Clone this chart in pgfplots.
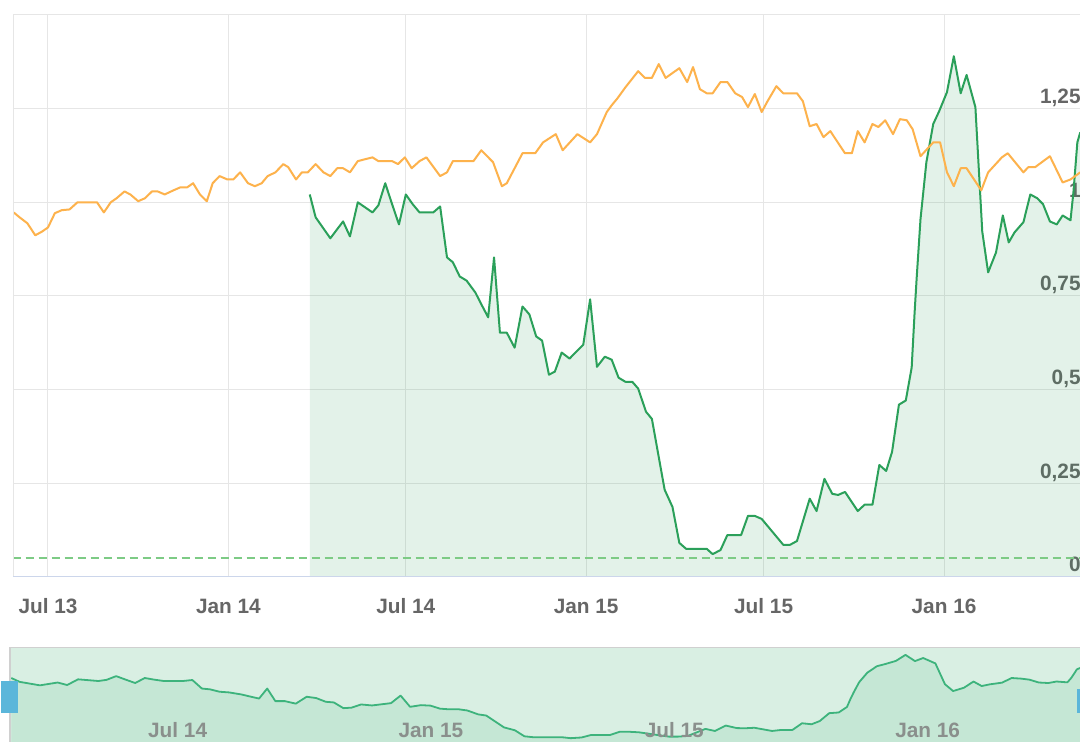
\documentclass[border=0pt]{standalone}
\usepackage{fontspec}
\setmainfont{Liberation Sans}
\usepackage{pgfplots}
\pgfplotsset{compat=1.18}
\usepackage{pgfplotstable}
\definecolor{gridc}{HTML}{E6E6E6}
\definecolor{axisc}{HTML}{CCD6EB}
\definecolor{labc}{HTML}{666666}
\definecolor{grn}{HTML}{2BA05A}
\definecolor{orng}{HTML}{FDB24C}
\definecolor{dashc}{HTML}{7DCB85}
\definecolor{navtop}{HTML}{D9EFE3}
\definecolor{navbot}{HTML}{C5E7D5}
\definecolor{navline}{HTML}{3DB37C}
\definecolor{handlec}{HTML}{5BB6DA}
\definecolor{navlab}{HTML}{8A8F8C}
\definecolor{navborder}{HTML}{D0D0D0}
\newcommand\tlf{\fontsize{10.4}{12}\selectfont\bfseries}

% x = days since 1 Jul 2013
\pgfplotstableread{
d v
-35 0.973
-29 0.960
-21 0.944
-13 0.912
-6 0.922
0 0.933
7 0.971
14 0.979
22 0.981
30 1.000
50 1.000
57 0.973
64 1.000
70 1.011
78 1.029
84 1.021
92 1.003
99 1.011
106 1.029
112 1.029
119 1.021
128 1.032
135 1.040
142 1.040
148 1.051
155 1.021
162 1.003
168 1.051
175 1.070
183 1.061
189 1.061
196 1.080
204 1.051
211 1.043
218 1.051
224 1.070
232 1.080
240 1.102
245 1.094
253 1.061
259 1.080
265 1.080
273 1.102
281 1.080
288 1.070
295 1.091
301 1.091
308 1.080
316 1.110
331 1.120
337 1.110
351 1.110
357 1.102
364 1.120
371 1.091
379 1.110
386 1.120
400 1.070
407 1.080
413 1.110
434 1.110
442 1.139
454 1.107
463 1.043
468 1.051
484 1.131
497 1.131
505 1.160
518 1.182
525 1.139
540 1.182
553 1.160
560 1.182
570 1.241
575 1.259
581 1.278
589 1.307
602 1.350
609 1.332
616 1.332
623 1.369
630 1.332
644 1.358
652 1.321
658 1.361
665 1.302
672 1.291
678 1.291
686 1.321
693 1.321
701 1.291
708 1.281
714 1.254
721 1.289
728 1.241
734 1.270
743 1.310
750 1.291
764 1.291
770 1.270
777 1.203
784 1.209
791 1.174
798 1.190
813 1.131
820 1.131
826 1.190
833 1.160
841 1.209
847 1.201
854 1.219
862 1.182
869 1.222
876 1.219
882 1.195
890 1.123
903 1.160
910 1.160
917 1.080
924 1.043
931 1.091
937 1.091
952 1.032
959 1.080
973 1.120
979 1.131
995 1.080
1000 1.094
1007 1.094
1022 1.123
1035 1.053
1043 1.061
1053 1.080
}\orangedata

\pgfplotstableread{
d v
267 1.021
273 0.960
288 0.904
301 0.949
308 0.909
316 1.000
331 0.973
337 0.992
344 1.051
351 0.995
358 0.941
365 1.021
372 0.995
379 0.973
393 0.973
400 0.989
407 0.853
413 0.840
420 0.802
427 0.791
436 0.759
441 0.733
449 0.693
455 0.853
461 0.652
468 0.652
476 0.612
484 0.722
491 0.701
498 0.642
504 0.631
511 0.540
517 0.548
524 0.599
532 0.583
546 0.620
553 0.741
560 0.561
568 0.588
575 0.580
582 0.532
589 0.521
596 0.521
602 0.503
610 0.441
616 0.422
629 0.233
637 0.187
644 0.091
651 0.075
672 0.075
678 0.061
686 0.072
693 0.112
707 0.112
714 0.163
721 0.163
728 0.155
750 0.086
757 0.086
764 0.096
777 0.209
784 0.176
792 0.262
800 0.222
806 0.219
813 0.227
826 0.176
833 0.193
841 0.193
848 0.299
855 0.283
861 0.334
868 0.460
875 0.471
881 0.559
884 0.706
886 0.794
890 0.955
896 1.107
903 1.209
909 1.243
917 1.294
924 1.390
931 1.291
937 1.340
946 1.254
953 0.922
959 0.813
967 0.866
974 0.965
980 0.893
986 0.920
995 0.947
1002 1.021
1009 1.011
1015 0.995
1022 0.949
1029 0.941
1035 0.965
1043 0.952
1046 1.027
1050 1.160
1053 1.187
}\greendata

\begin{document}
\begin{tikzpicture}
\useasboundingbox (0,0) rectangle (540pt,371pt);
\clip (0,0) rectangle (540pt,371pt);
\fill[white] (0,0) rectangle (540pt,371pt);
\begin{axis}[
  at={(6.5pt,82.5pt)}, anchor=south west,
  scale only axis, width=535.5pt, height=281pt,
  xmin=-35.7, xmax=1056.8, ymin=0, ymax=1.5,
  axis line style={draw=none},
  xtick={0,184,365,549,730,914},
  xticklabels={Jul 13,Jan 14,Jul 14,Jan 15,Jul 15,Jan 16},
  ytick={0,0.25,0.5,0.75,1,1.25,1.5},
  yticklabels={0,{0,25},{0,5},{0,75},1,{1,25},{}},
  major tick length=0pt,
  grid=major, major grid style={draw=gridc, line width=0.5pt},
  xticklabel style={anchor=base, inner sep=0pt, yshift=-18.5pt, font=\tlf, text=labc},
  yticklabel pos=right,
  yticklabel style={anchor=base east, inner sep=0pt, xshift=-1.5pt, yshift=2.5pt, font=\tlf, text=labc},
  clip=true,
]
\addplot[draw=none, fill=grn, fill opacity=0.13] table[x=d,y=v] {\greendata} \closedcycle;
\addplot[dashc, line width=1pt, dash pattern=on 4pt off 2.5pt] coordinates {(-36,0.05) (1057,0.05)};
\addplot[grn, line width=1pt, line join=round] table[x=d,y=v] {\greendata};
\addplot[orng, line width=1pt, line join=round] table[x=d,y=v] {\orangedata};
\draw[gridc, line width=0.6pt] (rel axis cs:0,0) -- (rel axis cs:0,1);
\draw[axisc, line width=0.6pt] (rel axis cs:0,0) -- (rel axis cs:1,0);
\end{axis}

\begin{axis}[
  at={(5pt,0pt)}, anchor=south west,
  scale only axis, width=535.5pt, height=47pt,
  xmin=266, xmax=1053, ymin=0, ymax=1.5,
  axis on top,
  axis line style={draw=none},
  axis background/.style={fill=navtop},
  ytick=\empty,
  xtick={365,549,730,914},
  xticklabels={Jul 14,Jan 15,Jul 15,Jan 16},
  major tick length=0pt,
  xticklabel style={anchor=base west, inner sep=0pt, xshift=1.5pt, yshift=2pt, font=\tlf, text=navlab},
  clip=true,
]
\addplot[draw=none, fill=navbot] table[x=d,y=v] {\greendata} \closedcycle;
\addplot[navline, line width=0.9pt, line join=round] table[x=d,y=v] {\greendata};
\end{axis}
\draw[navborder, line width=0.7pt] (5pt,0pt) -- (5pt,47.25pt) -- (540pt,47.25pt);
\fill[handlec] (0.5pt,14.5pt) rectangle (9pt,30.5pt);
\fill[handlec] (538.5pt,14.5pt) rectangle (547pt,26.5pt);
\end{tikzpicture}
\end{document}
